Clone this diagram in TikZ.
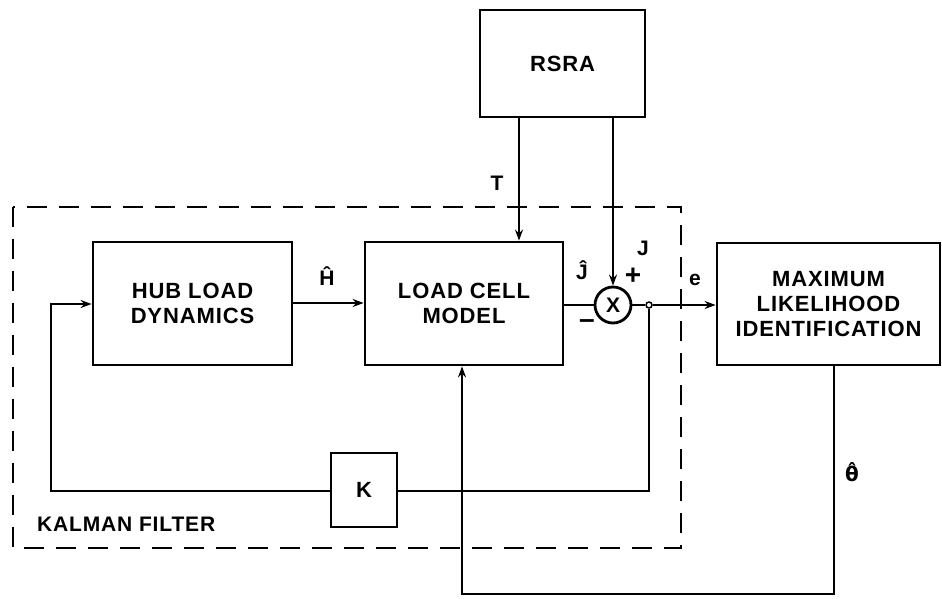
\documentclass[tikz,border=0pt]{standalone}
\usepackage{fontspec}
\setmainfont[LetterSpace=4]{Liberation Sans}
\newfontfamily\thetafont{DejaVu Sans}
\usetikzlibrary{arrows.meta}
\begin{document}
\begin{tikzpicture}[x=1pt,y=-1pt,
  blk/.style={draw,line width=2.8pt,inner sep=0pt,align=center,font=\fontsize{22}{25}\selectfont\bfseries},
  con/.style={line width=2pt},
  arr/.style={con,-{Stealth[length=11pt,width=8pt]}},
  lbl/.style={font=\fontsize{21}{24}\selectfont\bfseries,inner sep=0pt},
  kbox/.style={draw,dash pattern=on 20pt off 12pt,line width=2.6pt}]
\useasboundingbox (0,0) rectangle (942,599);
% blocks
\node[blk,minimum width=165pt,minimum height=107pt] (rsra) at (562.5,63.5) {RSRA};
\node[blk,minimum width=199pt,minimum height=123pt] (hub) at (192.5,303.5) {HUB LOAD\\DYNAMICS};
\node[blk,minimum width=198pt,minimum height=123pt] (lcm) at (464,303.5) {LOAD CELL\\MODEL};
\node[blk,minimum width=223pt,minimum height=122pt] (mli) at (828.5,304) {MAXIMUM\\LIKELIHOOD\\IDENTIFICATION};
\node[blk,minimum width=66pt,minimum height=74pt] (k) at (364,490) {K};
\node[draw,circle,line width=2.8pt,minimum size=36pt,inner sep=0pt,font=\fontsize{21}{24}\selectfont\bfseries] (sum) at (613,305) {X};
\node[draw,circle,line width=1.5pt,minimum size=6pt,inner sep=0pt] (jn) at (649,305) {};
% kalman filter dashed box
\draw[kbox] (13,207) rectangle (681,548);
\node[lbl,anchor=west] (kf) at (37,524) {KALMAN FILTER};
% coordinates
\coordinate (t1) at (519,117);
\coordinate (t2) at (613,117);
\coordinate (fbA) at (649,491);
\coordinate (fbB) at (51,491);
\coordinate (fbC) at (51,304);
\coordinate (th1) at (834,594);
\coordinate (th2) at (462,594);
% connectors
\draw[arr] (rsra.south -| t1) -- (lcm.north -| t1);
\draw[arr] (rsra.south -| t2) -- (sum.north);
\draw[arr] (hub.east |- 0,303) -- (lcm.west |- 0,303);
\draw[con] (lcm.east |- sum.west) -- (sum.west);
\draw[con] (sum.east) -- (jn.west);
\draw[arr] (jn.east) -- (mli.west |- jn.east);
\draw[con] (jn.south) -- (fbA) -- (k.east |- fbA);
\draw[arr] (k.west |- fbB) -- (fbB) -- (fbC) -- (hub.west |- fbC);
\draw[arr] (mli.south -| th1) -- (th1) -- (th2) -- (lcm.south -| th2);
% labels
\node[lbl] (lT) at (497,183) {T};
\node[lbl] (lH) at (327,276) {Ĥ};
\node[lbl] (lJh) at (582,270) {Ĵ};
\node[lbl] (lJ) at (643,248) {J};
\node[lbl,font=\fontsize{28}{30}\selectfont\bfseries] (lp) at (633,276) {+};
\node[lbl,font=\fontsize{28}{30}\selectfont\bfseries] (lm) at (587,324) {\textendash};
\node[lbl] (le) at (695,280) {e};
\node[lbl,font=\fontsize{20}{24}\selectfont\thetafont\bfseries] (lth) at (852,472) {θ̂};
\end{tikzpicture}
\end{document}
